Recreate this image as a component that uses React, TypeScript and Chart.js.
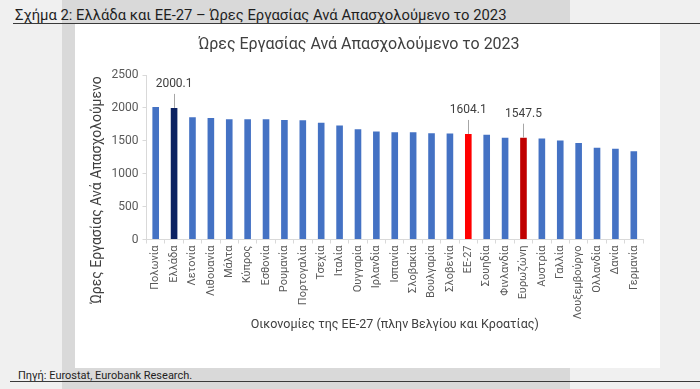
import React, { useEffect, useRef } from 'react';
import { Chart, registerables } from 'chart.js';

Chart.register(...registerables);

const FONT = 'Roboto, "Noto Sans", "DejaVu Sans", sans-serif';

const chartTitle = 'Ώρες Εργασίας Ανά Απασχολούμενο το 2023';
const yAxisTitle = 'Ώρες Εργασίας Ανά Απασχολούμενο';
const xAxisTitle = 'Οικονομίες της ΕΕ-27 (πλην Βελγίου και Κροατίας)';
const headerText = 'Σχήμα 2: Ελλάδα και ΕΕ-27 – Ώρες Εργασίας Ανά Απασχολούμενο το 2023';
const sourceText = 'Πηγή: Eurostat, Eurobank Research.';

const categories = [
  'Πολωνία', 'Ελλάδα', 'Λετονία', 'Λιθουανία', 'Μάλτα', 'Κύπρος', 'Εσθονία',
  'Ρουμανία', 'Πορτογαλία', 'Τσεχία', 'Ιταλία', 'Ουγγαρία', 'Ιρλανδία', 'Ισπανία',
  'Σλοβακία', 'Βουλγαρία', 'Σλοβενία', 'ΕΕ-27', 'Σουηδία', 'Φινλανδία', 'Ευρωζώνη',
  'Αυστρία', 'Γαλλία', 'Λουξεμβούργο', 'Ολλανδία', 'Δανία', 'Γερμανία',
];

const hours = [
  2015, 2000.1, 1859, 1848, 1828, 1828, 1828,
  1818, 1813, 1773, 1732, 1677, 1641, 1631,
  1631, 1616, 1611, 1604.1, 1591, 1545, 1547.5,
  1535, 1505, 1465, 1394, 1379, 1343,
];

const yTicks = [0, 500, 1000, 1500, 2000, 2500];

const labelledCategories = ['Ελλάδα', 'ΕΕ-27', 'Ευρωζώνη'];

const BLUE = '#4472C4';
const highlightColors: Record<string, string> = {
  'Ελλάδα': '#0B2262',
  'ΕΕ-27': '#FF0000',
  'Ευρωζώνη': '#C00000',
};

const annotatePlugin = {
  id: 'annotate',
  afterDatasetsDraw(chart: any) {
    const { ctx, scales } = chart;
    const x = scales.x;
    const y = scales.y;
    ctx.save();
    ctx.font = `12px ${FONT}`;
    ctx.fillStyle = '#404040';
    ctx.textAlign = 'center';
    ctx.textBaseline = 'middle';
    ctx.strokeStyle = '#a6a6a6';
    ctx.lineWidth = 1;
    labelledCategories.forEach((cat) => {
      const i = categories.indexOf(cat);
      const px = x.getPixelForValue(i);
      const top = y.getPixelForValue(hours[i]);
      const lx = Math.round(px) + 0.5;
      ctx.beginPath();
      ctx.moveTo(lx, top - 14);
      ctx.lineTo(lx, top);
      ctx.stroke();
      ctx.fillText(hours[i].toFixed(1), px, top - 24);
    });
    ctx.restore();

    // rotated y-axis title
    ctx.save();
    ctx.font = `14px ${FONT}`;
    ctx.fillStyle = '#404040';
    ctx.textAlign = 'center';
    ctx.textBaseline = 'middle';
    ctx.translate(22, 166);
    ctx.rotate(-Math.PI / 2);
    ctx.fillText(yAxisTitle, 0, 0);
    ctx.restore();
  },
};

function BarChart() {
  const ref = useRef<HTMLCanvasElement | null>(null);
  useEffect(() => {
    if (!ref.current) return;
    const chart = new Chart(ref.current, {
      type: 'bar',
      data: {
        labels: categories,
        datasets: [
          {
            data: hours,
            backgroundColor: categories.map((c) => highlightColors[c] || BLUE),
            barPercentage: 0.36,
            categoryPercentage: 1,
          },
        ],
      },
      options: {
        animation: false,
        responsive: false,
        devicePixelRatio: 1,
        layout: { padding: { left: 0, right: 17, top: 0, bottom: 31.2 } },
        plugins: {
          legend: { display: false },
          tooltip: { enabled: false },
          title: {
            display: true,
            text: chartTitle,
            color: '#404040',
            font: { family: FONT, size: 16, weight: 'normal' },
            padding: { top: 11.4, bottom: 20.4 },
          },
        },
        scales: {
          x: {
            grid: {
              display: true,
              drawOnChartArea: false,
              drawTicks: true,
              tickLength: 4,
              color: '#d9d9d9',
              offset: true,
            },
            border: { display: true, color: '#d9d9d9' },
            ticks: {
              autoSkip: false,
              minRotation: 90,
              maxRotation: 90,
              padding: 2,
              color: '#595959',
              font: { family: FONT, size: 11 },
            },
            title: {
              display: true,
              text: xAxisTitle,
              color: '#404040',
              font: { family: FONT, size: 12.5 },
              padding: { top: 0, bottom: 4 },
            },
            afterFit: (s: any) => {
              s.height = 97.3;
            },
          },
          y: {
            min: yTicks[0],
            max: yTicks[yTicks.length - 1],
            afterBuildTicks: (s: any) => {
              s.ticks = yTicks.map((v) => ({ value: v }));
            },
            ticks: {
              padding: 4,
              color: '#595959',
              font: { family: FONT, size: 12 },
              callback: (v: any) => String(v),
            },
            grid: {
              display: true,
              drawOnChartArea: false,
              drawTicks: true,
              tickLength: 4,
              color: '#d9d9d9',
            },
            border: { display: true, color: '#d9d9d9' },
            afterFit: (s: any) => {
              s.width = 71.5;
            },
          },
        },
      },
      plugins: [annotatePlugin],
    });
    return () => chart.destroy();
  }, []);
  return <canvas ref={ref} width={585} height={344} style={{ display: 'block', width: 585, height: 344 }} />;
}

export default function App() {
  return (
    <div
      style={{
        position: 'absolute',
        left: 0,
        top: 0,
        width: 700,
        height: 389,
        background: '#f0f0f0',
        overflow: 'hidden',
        fontFamily: FONT,
      }}
    >
      <div style={{ position: 'absolute', left: 62, top: 0, width: 508, height: 389, background: '#d9d9d9' }} />
      <div style={{ position: 'absolute', left: 13, top: 23, width: 687, height: 0, borderTop: '1.5px solid #3a3a3a' }} />
      <div
        style={{
          position: 'absolute',
          left: 15,
          top: 5,
          fontSize: 14.8,
          lineHeight: '20px',
          color: '#1f1f1f',
          whiteSpace: 'nowrap',
        }}
      >
        {headerText}
      </div>
      <div style={{ position: 'absolute', left: 75, top: 24, width: 585, height: 344, background: '#ffffff' }}>
        <BarChart />
      </div>
      <div style={{ position: 'absolute', left: 10, top: 381, width: 690, height: 0, borderTop: '1.5px solid #3a3a3a' }} />
      <div
        style={{
          position: 'absolute',
          left: 18,
          top: 368,
          fontSize: 11,
          lineHeight: '15px',
          color: '#1f1f1f',
          whiteSpace: 'nowrap',
        }}
      >
        {sourceText}
      </div>
    </div>
  );
}
